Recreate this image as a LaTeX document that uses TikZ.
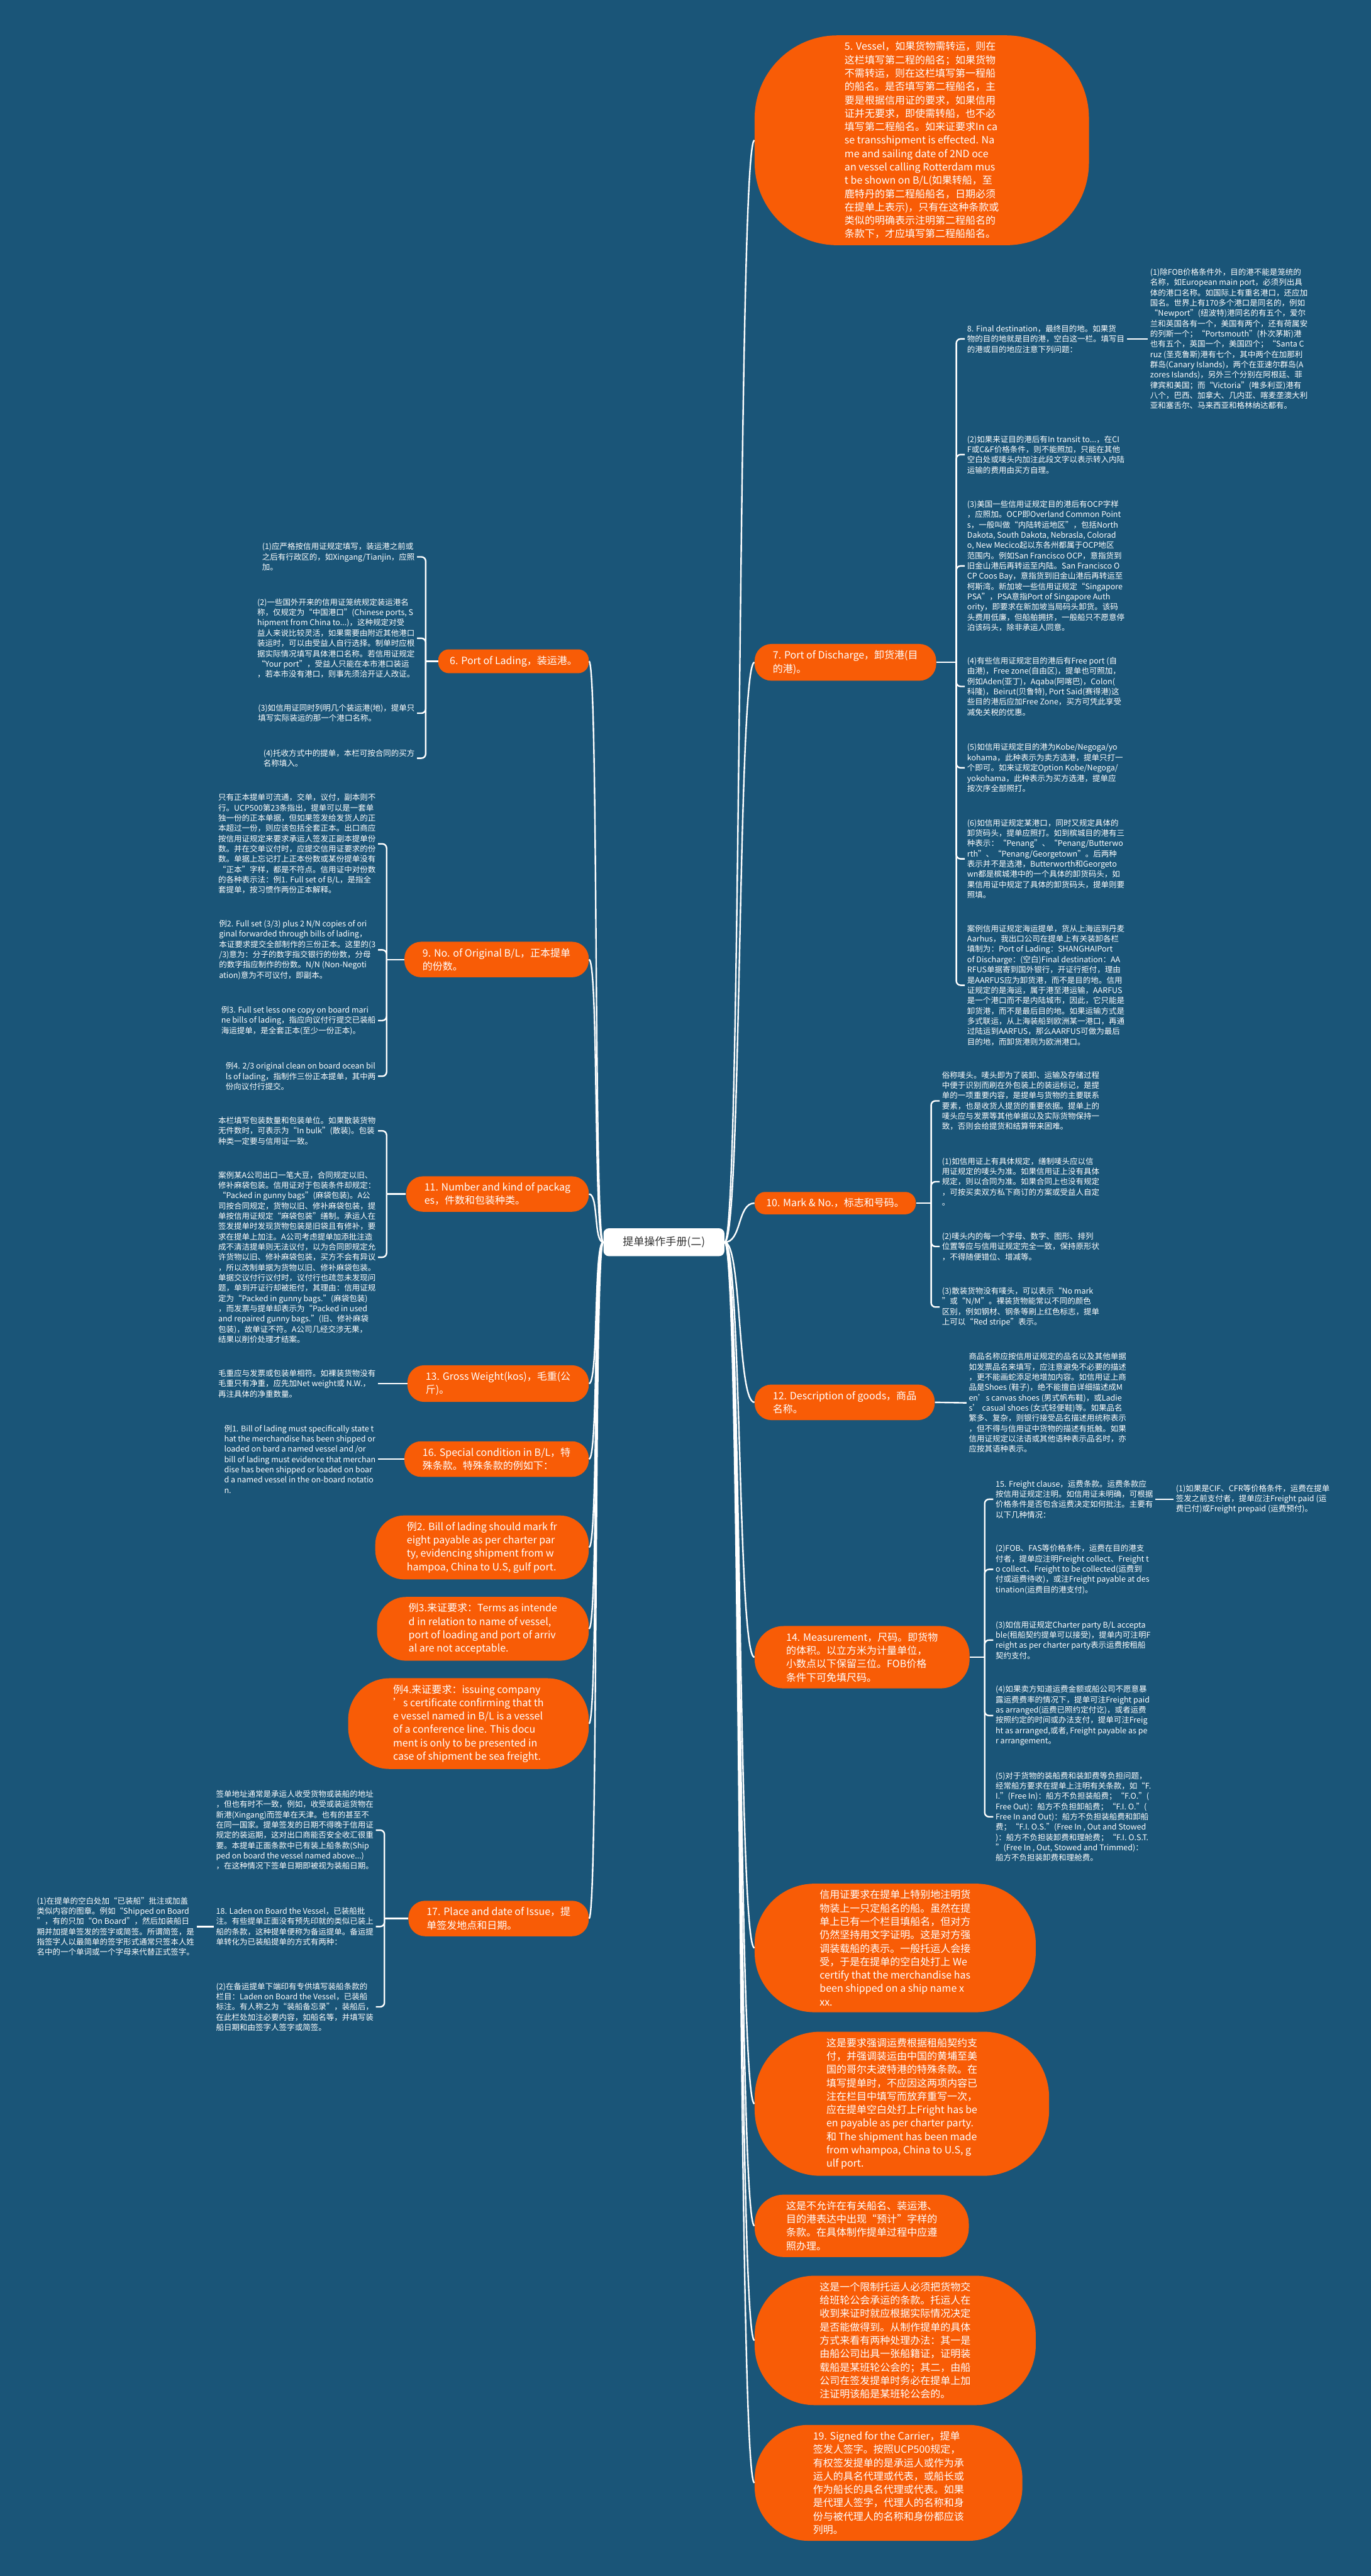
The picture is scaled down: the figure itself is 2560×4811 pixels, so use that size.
\documentclass[tikz,border=0pt]{standalone}
\usepackage{fontspec}
\setmainfont{Noto Sans CJK SC}
\usetikzlibrary{positioning}

\definecolor{bgblue}{RGB}{26,85,120}
\definecolor{mmorange}{RGB}{248,92,6}
\definecolor{roottext}{RGB}{51,51,51}

\begin{document}
\begin{tikzpicture}[
        x=0.5pt, y=-0.5pt,
        root/.style={rectangle, rounded corners=5pt, fill=white, text=roottext, minimum width=113pt, minimum height=26pt, font=\fontsize{10}{12}\selectfont},
        branch/.style={rectangle, fill=mmorange, text=white, align=left, inner ysep=6pt, font=\fontsize{9.4}{12.5}\selectfont},
        pill/.style={inner xsep=#1, rounded corners=0.92*#1},
        note/.style={align=left, text=white, inner xsep=2pt, inner ysep=0pt, font=\fontsize{7.35}{9.6}\selectfont},
        link/.style={draw=white, line width=1.4pt},
        bracket/.style={link, rounded corners=4pt}
    ]
        \fill[bgblue] (0,0) rectangle (2560,4811);
        \useasboundingbox (0,0) rectangle (2560,4811);

        \node[root] (root) at (1240,2320) {提单操作手册(二)};

        % right side branches
        \node[branch, pill=84pt, anchor=west] (n5) at (1409,262) {5. Vessel，如果货物需转运，则在\\这栏填写第二程的船名；如果货物\\不需转运，则在这栏填写第一程船\\的船名。是否填写第二程船名，主\\要是根据信用证的要求，如果信用\\证并无要求，即使需转船，也不必\\填写第二程船名。如来证要求In ca\\se transshipment is effected. Na\\me and sailing date of 2ND oce\\an vessel calling Rotterdam mus\\t be shown on B/L(如果转船，至\\鹿特丹的第二程船船名，日期必须\\在提单上表示)，只有在这种条款或\\类似的明确表示注明第二程船名的\\条款下，才应填写第二程船船名。};
        \node[branch, pill=17pt, anchor=west] (n7) at (1409,1237) {7. Port of Discharge，卸货港(目\\的港)。};
        \node[branch, pill=10.75pt, anchor=west] (n10) at (1409,2247) {10. Mark \& No.，标志和号码。};
        \node[branch, pill=17pt, anchor=west] (n12) at (1409,2619) {12. Description of goods，商品\\名称。};
        \node[branch, pill=29.5pt, anchor=west] (n14) at (1409,3095) {14. Measurement，尺码。即货物\\的体积。以立方米为计量单位，\\小数点以下保留三位。FOB价格\\条件下可免填尺码。};
        \node[branch, pill=60.75pt, anchor=west] (b1) at (1409,3638) {信用证要求在提单上特别地注明货\\物装上一只定船名的船。虽然在提\\单上已有一个栏目填船名，但对方\\仍然坚持用文字证明。这是对方强\\调装载船的表示。一般托运人会接\\受，于是在提单的空白处打上 We\\certify that the merchandise has\\been shipped on a ship name x\\xx.};
        \node[branch, pill=67pt, anchor=west] (b2) at (1409,3929) {这是要求强调运费根据租船契约支\\付，并强调装运由中国的黄埔至美\\国的哥尔夫波特港的特殊条款。在\\填写提单时，不应因这两项内容已\\注在栏目中填写而放弃重写一次，\\应在提单空白处打上Fright has be\\en payable as per charter party.\\和 The shipment has been made\\from whampoa, China to U.S, g\\ulf port.};
        \node[branch, pill=29.5pt, anchor=west] (b3) at (1409,4157) {这是不允许在有关船名、装运港、\\目的港表达中出现“预计”字样的\\条款。在具体制作提单过程中应遵\\照办理。};
        \node[branch, pill=60.75pt, anchor=west] (b4) at (1409,4371) {这是一个限制托运人必须把货物交\\给班轮公会承运的条款。托运人在\\收到来证时就应根据实际情况决定\\是否能做得到。从制作提单的具体\\方式来看有两种处理办法：其一是\\由船公司出具一张船籍证，证明装\\载船是某班轮公会的；其二，由船\\公司在签发提单时务必在提单上加\\注证明该船是某班轮公会的。};
        \node[branch, pill=54.5pt, anchor=west] (n19) at (1409,4637) {19. Signed for the Carrier，提单\\签发人签字。按照UCP500规定，\\有权签发提单的是承运人或作为承\\运人的具名代理或代表，或船长或\\作为船长的具名代理或代表。如果\\是代理人签字，代理人的名称和身\\份与被代理人的名称和身份都应该\\列明。};

        % left side branches
        \node[branch, pill=10.75pt, anchor=east] (n6) at (1100,1235) {6. Port of Lading，装运港。};
        \node[branch, pill=17pt, anchor=east] (n9) at (1100,1792) {9. No. of Original B/L，正本提单\\的份数。};
        \node[branch, pill=17pt, anchor=east] (n11) at (1100,2230) {11. Number and kind of packag\\es，件数和包装种类。};
        \node[branch, pill=17pt, anchor=east] (n13) at (1100,2584) {13. Gross Weight(kos)，毛重(公\\斤)。};
        \node[branch, pill=17pt, anchor=east] (n16) at (1100,2725) {16. Special condition in B/L，特\\殊条款。特殊条款的例如下：};
        \node[branch, pill=29.5pt, anchor=east] (e2) at (1100,2890) {例2. Bill of lading should mark fr\\eight payable as per charter par\\ty, evidencing shipment from w\\hampoa, China to U.S, gulf port.};
        \node[branch, pill=29.5pt, anchor=east] (e3) at (1100,3042) {例3.来证要求：Terms as intende\\d in relation to name of vessel,\\port of loading and port of arriv\\al are not acceptable.};
        \node[branch, pill=42pt, anchor=east] (e4) at (1100,3219) {例4.来证要求：issuing company\\’s certificate confirming that th\\e vessel named in B/L is a vessel\\of a conference line. This docu\\ment is only to be presented in\\case of shipment be sea freight.};
        \node[branch, pill=17pt, anchor=east] (n17) at (1100,3583) {17. Place and date of Issue，提\\单签发地点和日期。};

        % root links
        \foreach \n in {n5,n7,n10,n12,n14,b1,b2,b3,b4,n19}
            \draw[link] (root.east) .. controls +(32,0) and +(-32,0) .. (\n.west);
        \foreach \n in {n6,n9,n11,n13,n16,e2,e3,e4,n17}
            \draw[link] (root.west) .. controls +(-18,0) and +(18,0) .. (\n.east);

        % port of lading
        \node[note, anchor=east] (l61) at (779,1040) {(1)应严格按信用证规定填写，装运港之前或\\之后有行政区的，如Xingang/Tianjin，应照\\加。};
        \node[note, anchor=east] (l62) at (779,1192) {(2)一些国外开来的信用证笼统规定装运港名\\称，仅规定为“中国港口”(Chinese ports, S\\hipment from China to...)，这种规定对受\\益人来说比较灵活，如果需要由附近其他港口\\装运时，可以由受益人自行选择。制单时应根\\据实际情况填写具体港口名称。若信用证规定\\“Your port”，受益人只能在本市港口装运\\，若本市没有港口，则事先须洽开证人改证。};
        \node[note, anchor=east] (l63) at (779,1332) {(3)如信用证同时列明几个装运港(地)，提单只\\填写实际装运的那一个港口名称。};
        \node[note, anchor=east] (l64) at (779,1416) {(4)托收方式中的提单，本栏可按合同的买方\\名称填入。};
        \path (l61.east |- n6.west) ++(16,0) coordinate (k6);
        \draw[link] (n6.west) -- (k6);
        \foreach \c in {l61,l62,l63,l64}
            \draw[bracket] (k6) |- (\c.east);

        % original B/L
        \node[note, anchor=east] (l91) at (706,1576) {只有正本提单可流通，交单，议付，副本则不\\行。UCP500第23条指出，提单可以是一套单\\独一份的正本单据，但如果签发给发货人的正\\本超过一份，则应该包括全套正本。出口商应\\按信用证规定来要求承运人签发正副本提单份\\数。并在交单议付时，应提交信用证要求的份\\数。单据上忘记打上正本份数或某份提单没有\\“正本”字样，都是不符点。信用证中对份数\\的各种表示法：例1. Full set of B/L，是指全\\套提单，按习惯作两份正本解释。};
        \node[note, anchor=east] (l92) at (706,1774) {例2. Full set (3/3) plus 2 N/N copies of ori\\ginal forwarded through bills of lading，\\本证要求提交全部制作的三份正本。这里的(3\\/3)意为：分子的数字指交银行的份数，分母\\的数字指应制作的份数。N/N (Non-Negoti\\ation)意为不可议付，即副本。};
        \node[note, anchor=east] (l93) at (706,1906) {例3. Full set less one copy on board mari\\ne bills of lading，指应向议付行提交已装船\\海运提单，是全套正本(至少一份正本)。};
        \node[note, anchor=east] (l94) at (706,2010) {例4. 2/3 original clean on board ocean bil\\ls of lading，指制作三份正本提单，其中两\\份向议付行提交。};
        \path (l91.east |- n9.west) ++(16,0) coordinate (k9);
        \draw[link] (n9.west) -- (k9);
        \foreach \c in {l91,l92,l93,l94}
            \draw[bracket] (k9) |- (\c.east);

        % packages
        \node[note, anchor=east] (l111) at (706,2112) {本栏填写包装数量和包装单位。如果散装货物\\无件数时，可表示为“In bulk”(散装)。包装\\种类一定要与信用证一致。};
        \node[note, anchor=east] (l112) at (706,2348) {案例某A公司出口一笔大豆，合同规定以旧、\\修补麻袋包装。信用证对于包装条件却规定：\\“Packed in gunny bags”(麻袋包装)。A公\\司按合同规定，货物以旧、修补麻袋包装，提\\单按信用证规定“麻袋包装”缮制。承运人在\\签发提单时发现货物包装是旧袋且有修补，要\\求在提单上加注。A公司考虑提单加添批注造\\成不清洁提单则无法议付，以为合同即规定允\\许货物以旧、修补麻袋包装，买方不会有异议\\，所以改制单据为货物以旧、修补麻袋包装。\\单据交议付行议付时，议付行也疏忽未发现问\\题，单到开证行却被拒付，其理由：信用证规\\定为“Packed in gunny bags.”(麻袋包装)\\，而发票与提单却表示为“Packed in used\\and repaired gunny bags.”(旧、修补麻袋\\包装)，故单证不符。A公司几经交涉无果，\\结果以削价处理才结案。};
        \path (l111.east |- n11.west) ++(16,0) coordinate (k11);
        \draw[link] (n11.west) -- (k11);
        \foreach \c in {l111,l112}
            \draw[bracket] (k11) |- (\c.east);

        % gross weight, special condition
        \node[note, anchor=east] (l131) at (706,2584) {毛重应与发票或包装单相符。如裸装货物没有\\毛重只有净重，应先加Net weight或 N.W.，\\再注具体的净重数量。};
        \draw[link] (n13.west) -- (l131.east);
        \node[note, anchor=east] (l161) at (706,2725) {例1. Bill of lading must specifically state t\\hat the merchandise has been shipped or\\loaded on bard a named vessel and /or\\bill of lading must evidence that merchan\\dise has been shipped or loaded on boar\\d a named vessel in the on-board notatio\\n.};
        \draw[link] (n16.west) -- (l161.east);

        % place and date of issue
        \node[note, anchor=east] (l171) at (702,3418) {签单地址通常是承运人收受货物或装船的地址\\，但也有时不一致，例如，收受或装运货物在\\新港(Xingang)而签单在天津。也有的甚至不\\在同一国家。提单签发的日期不得晚于信用证\\规定的装运期，这对出口商能否安全收汇很重\\要。本提单正面条款中已有装上船条款(Ship\\ped on board the vessel named above...)\\，在这种情况下签单日期即被视为装船日期。};
        \node[note, anchor=east] (l172) at (702,3598) {18. Laden on Board the Vessel，已装船批\\注。有些提单正面没有预先印就的类似已装上\\船的条款，这种提单便称为备运提单。备运提\\单转化为已装船提单的方式有两种：};
        \node[note, anchor=east] (l173) at (702,3748) {(2)在备运提单下端印有专供填写装船条款的\\栏目：Laden on Board the Vessel，已装船\\标注。有人称之为“装船备忘录”，装船后，\\在此栏处加注必要内容，如船名等，并填写装\\船日期和由签字人签字或简签。};
        \node[note, left=16pt of l172] (l1721) {(1)在提单的空白处加“已装船”批注或加盖\\类似内容的图章。例如“Shipped on Board\\”，有的只加“On Board”，然后加装船日\\期并加提单签发的签字或简签。所谓简签，是\\指签字人以最简单的签字形式通常只签本人姓\\名中的一个单词或一个字母来代替正式签字。};
        \path (l171.east |- n17.west) ++(16,0) coordinate (k17);
        \draw[link] (n17.west) -- (k17);
        \foreach \c in {l171,l172,l173}
            \draw[bracket] (k17) |- (\c.east);
        \draw[link] (l172.west) -- (l1721.east);

        % port of discharge
        \node[note, anchor=west] (r8) at (1802,633) {8. Final destination，最终目的地。如果货\\物的目的地就是目的港，空白这一栏。填写目\\的港或目的地应注意下列问题：};
        \node[note, right=19.5pt of r8] (r81) {(1)除FOB价格条件外，目的港不能是笼统的\\名称，如European main port，必须列出具\\体的港口名称。如国际上有重名港口，还应加\\国名。世界上有170多个港口是同名的，例如\\“Newport”(纽波特)港同名的有五个，爱尔\\兰和英国各有一个，美国有两个，还有荷属安\\的列斯一个；“Portsmouth”(朴次茅斯)港\\也有五个，英国一个，美国四个；“Santa C\\ruz (圣克鲁斯)港有七个，其中两个在加那利\\群岛(Canary Islands)，两个在亚速尔群岛(A\\zores Islands)，另外三个分别在阿根廷、菲\\律宾和美国；而“Victoria”(唯多利亚)港有\\八个，巴西、加拿大、几内亚、喀麦垄澳大利\\亚和塞舌尔、马来西亚和格林纳达都有。};
        \draw[link] (r8.east) -- (r81.west);
        \node[note, anchor=west] (r72) at (1802,849) {(2)如果来证目的港后有In transit to...，在CI\\F或C\&F价格条件，则不能照加，只能在其他\\空白处或唛头内加注此段文字以表示转入内陆\\运输的费用由买方自理。};
        \node[note, anchor=west] (r73) at (1802,1057) {(3)美国一些信用证规定目的港后有OCP字样\\，应照加。OCP即Overland Common Point\\s，一般叫做“内陆转运地区”，包括North\\Dakota, South Dakota, Nebrasla, Colorad\\o, New Mecico起以东各州都属于OCP地区\\范围内。例如San Francisco OCP，意指货到\\旧金山港后再转运至内陆。San Francisco O\\CP Coos Bay，意指货到旧金山港后再转运至\\柯斯湾。新加坡一些信用证规定“Singapore\\PSA”，PSA意指Port of Singapore Auth\\ority，即要求在新加坡当局码头卸货。该码\\头费用低廉，但船舶拥挤，一般船只不愿意停\\泊该码头，除非承运人同意。};
        \node[note, anchor=west] (r74) at (1802,1282) {(4)有些信用证规定目的港后有Free port (自\\由港)，Free zone(自由区)，提单也可照加，\\例如Aden(亚丁)，Aqaba(阿喀巴)，Colon(\\科隆)，Beirut(贝鲁特), Port Said(赛得港)这\\些目的港后应加Free Zone，买方可凭此享受\\减免关税的优惠。};
        \node[note, anchor=west] (r75) at (1802,1434) {(5)如信用证规定目的港为Kobe/Negoga/yo\\kohama，此种表示为卖方选港，提单只打一\\个即可。如来证规定Option Kobe/Negoga/\\yokohama，此种表示为买方选港，提单应\\按次序全部照打。};
        \node[note, anchor=west] (r76) at (1802,1604) {(6)如信用证规定某港口，同时又规定具体的\\卸货码头，提单应照打。如到槟城目的港有三\\种表示：“Penang”、“Penang/Butterwo\\rth”、“Penang/Georgetown”。后两种\\表示并不是选港，Butterworth和Georgeto\\wn都是槟城港中的一个具体的卸货码头，如\\果信用证中规定了具体的卸货码头，提单则要\\照填。};
        \node[note, anchor=west] (r77) at (1802,1840) {案例信用证规定海运提单，货从上海运到丹麦\\Aarhus，我出口公司在提单上有关装卸各栏\\填制为：Port of Lading：SHANGHAIPort\\of Discharge：(空白)Final destination：AA\\RFUS单据寄到国外银行，开证行拒付，理由\\是AARFUS应为卸货港，而不是目的地。信用\\证规定的是海运，属于港至港运输，AARFUS\\是一个港口而不是内陆城市，因此，它只能是\\卸货港，而不是最后目的地。如果运输方式是\\多式联运，从上海装船到欧洲某一港口，再通\\过陆运到AARFUS，那么AARFUS可做为最后\\目的地，而卸货港则为欧洲港口。};
        \path (r8.west |- n7.east) ++(-16,0) coordinate (k7);
        \draw[link] (n7.east) -- (k7);
        \foreach \c in {r8,r72,r73,r74,r75,r76,r77}
            \draw[bracket] (k7) |- (\c.west);

        % mark and number
        \node[note, anchor=west] (r101) at (1755,2056) {俗称唛头。唛头即为了装卸、运输及存储过程\\中便于识别而刷在外包装上的装运标记，是提\\单的一项重要内容，是提单与货物的主要联系\\要素，也是收货人提货的重要依据。提单上的\\唛头应与发票等其他单据以及实际货物保持一\\致，否则会给提货和结算带来困难。};
        \node[note, anchor=west] (r102) at (1755,2207) {(1)如信用证上有具体规定，缮制唛头应以信\\用证规定的唛头为准。如果信用证上没有具体\\规定，则以合同为准。如果合同上也没有规定\\，可按买卖双方私下商订的方案或受益人自定\\。};
        \node[note, anchor=west] (r103) at (1755,2328) {(2)唛头内的每一个字母、数字、图形、排列\\位置等应与信用证规定完全一致，保持原形状\\，不得随便错位、增减等。};
        \node[note, anchor=west] (r104) at (1755,2441) {(3)散装货物没有唛头，可以表示“No mark\\”或“N/M”。裸装货物能常以不同的颜色\\区别，例如钢材、钢条等刷上红色标志，提单\\上可以“Red stripe”表示。};
        \path (r101.west |- n10.east) ++(-16,0) coordinate (k10);
        \draw[link] (n10.east) -- (k10);
        \foreach \c in {r101,r102,r103,r104}
            \draw[bracket] (k10) |- (\c.west);

        % description of goods
        \node[note, anchor=west] (r121) at (1805,2620) {商品名称应按信用证规定的品名以及其他单据\\如发票品名来填写，应注意避免不必要的描述\\，更不能画蛇添足地增加内容。如信用证上商\\品是Shoes (鞋子)，绝不能擅自详细描述成M\\en’s canvas shoes (男式帆布鞋)，或Ladie\\s’ casual shoes (女式轻便鞋)等。如果品名\\繁多、复杂，则银行接受品名描述用统称表示\\，但不得与信用证中货物的描述有抵触。如果\\信用证规定以法语或其他语种表示品名时，亦\\应按其语种表示。};
        \draw[link] (n12.east) -- (r121.west);

        % measurement, freight
        \node[note, anchor=west] (r141) at (1855,2800) {15. Freight clause，运费条款。运费条款应\\按信用证规定注明。如信用证未明确，可根据\\价格条件是否包含运费决定如何批注。主要有\\以下几种情况：};
        \node[note, right=17pt of r141] (r1411) {(1)如果是CIF、CFR等价格条件，运费在提单\\签发之前支付者，提单应注Freight paid (运\\费已付)或Freight prepaid (运费预付)。};
        \draw[link] (r141.east) -- (r1411.west);
        \node[note, anchor=west] (r142) at (1855,2931) {(2)FOB、FAS等价格条件，运费在目的港支\\付者，提单应注明Freight collect、Freight t\\o collect、Freight to be collected(运费到\\付或运费待收)，或注Freight payable at des\\tination(运费目的港支付)。};
        \node[note, anchor=west] (r143) at (1855,3063) {(3)如信用证规定Charter party B/L accepta\\ble(租船契约提单可以接受)，提单内可注明F\\reight as per charter party表示运费按租船\\契约支付。};
        \node[note, anchor=west] (r144) at (1855,3204) {(4)如果卖方知道运费金额或船公司不愿意暴\\露运费费率的情况下，提单可注Freight paid\\as arranged(运费已照约定付讫)，或者运费\\按照约定的时间或办法支付，提单可注Freig\\ht as arranged,或者, Freight payable as pe\\r arrangement。};
        \node[note, anchor=west] (r145) at (1855,3393) {(5)对于货物的装船费和装卸费等负担问题，\\经常船方要求在提单上注明有关条款，如“F.\\I.”(Free In)：船方不负担装船费；“F.O.”(\\Free Out)：船方不负担卸船费；“F.I. O.”(\\Free In and Out)：船方不负担装船费和卸船\\费；“F.I. O.S.”(Free In , Out and Stowed\\)：船方不负担装卸费和理舱费；“F.I. O.S.T.\\”(Free In , Out, Stowed and Trimmed)：\\船方不负担装卸费和理舱费。};
        \path (r141.west |- n14.east) ++(-16,0) coordinate (k14);
        \draw[link] (n14.east) -- (k14);
        \foreach \c in {r141,r142,r143,r144,r145}
            \draw[bracket] (k14) |- (\c.west);
    \end{tikzpicture}
\end{document}
